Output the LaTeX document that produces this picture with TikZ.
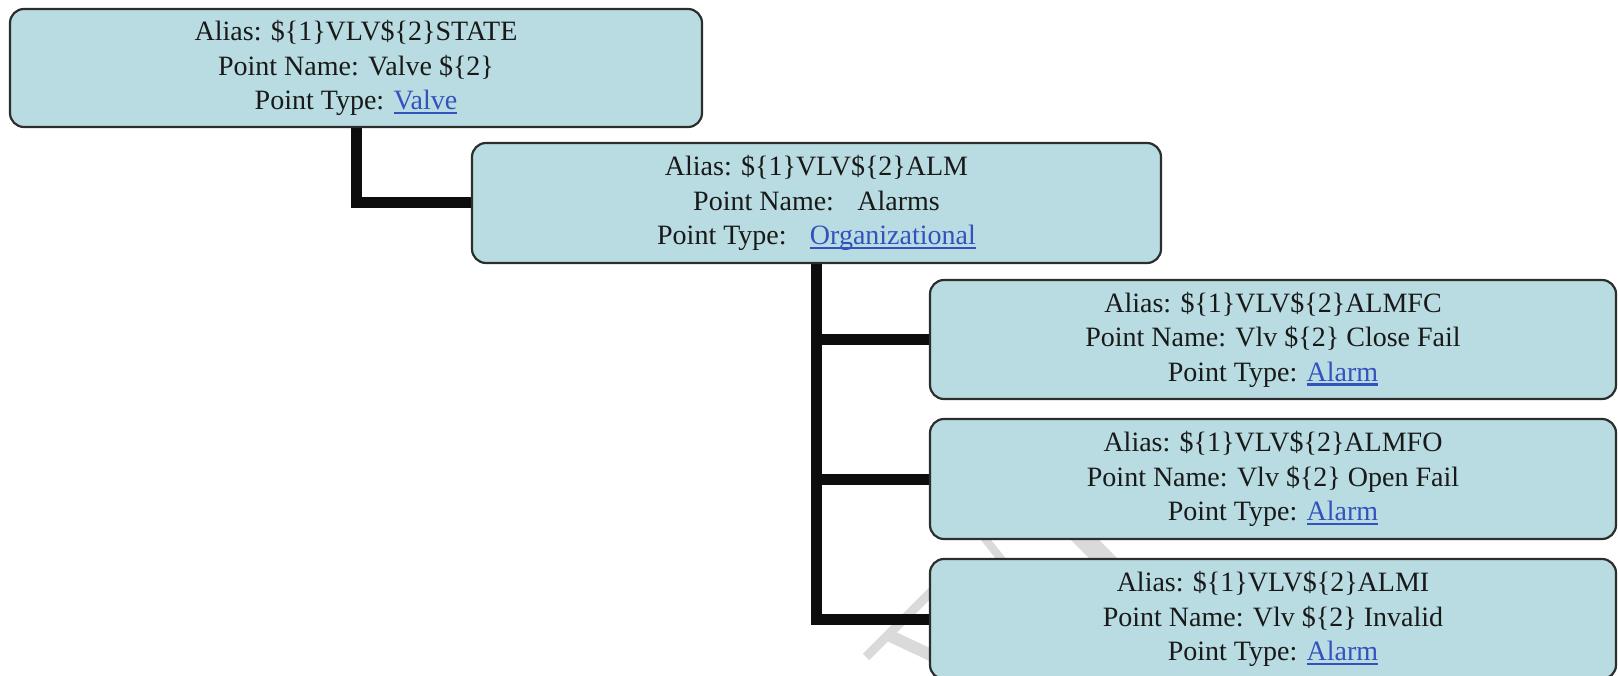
\documentclass[tikz,border=0pt]{standalone}
\usepackage{fontspec}
\setmainfont{Liberation Serif}
\usetikzlibrary{backgrounds}
\definecolor{boxfill}{RGB}{184,220,225}
\definecolor{boxedge}{RGB}{45,45,45}
\definecolor{linkblue}{RGB}{52,82,190}
\definecolor{wmgrey}{RGB}{218,218,218}
\newcommand{\lnk}[1]{{\color{linkblue}\setbox0\hbox{#1}\rlap{\rule[-4.5pt]{\wd0}{2.2pt}}\box0}}
\tikzset{
  pointbox/.style={draw=boxedge, line width=2.2pt, fill=boxfill, rounded corners=14pt,
    align=center, inner sep=0pt, text=black!90,
    font=\fontsize{28}{34.5}\selectfont},
  conn/.style={line width=11pt, black!95},
  wm/.style={line width=9pt, wmgrey}
}
\begin{document}
\begin{tikzpicture}[x=1pt,y=-1pt]
\useasboundingbox (0,0) rectangle (1618,676);
\clip (0,0) rectangle (1618,676);
\node[pointbox, minimum width=692pt, minimum height=118pt] (b1) at (356,68)
  {Alias: \$\{1\}VLV\$\{2\}STATE\\Point Name: Valve \$\{2\}\\Point Type: \lnk{Valve}};
\node[pointbox, minimum width=689pt, minimum height=120pt] (b2) at (816.5,203)
  {Alias: \$\{1\}VLV\$\{2\}ALM\\Point Name:\hspace{0.5em} Alarms\\Point Type:\hspace{0.5em} \lnk{Organizational}};
\node[pointbox, minimum width=686pt, minimum height=119pt] (b3) at (1273,339.5)
  {Alias: \$\{1\}VLV\$\{2\}ALMFC\\Point Name: Vlv \$\{2\} Close Fail\\Point Type: \lnk{Alarm}};
\node[pointbox, minimum width=686pt, minimum height=120pt] (b4) at (1273,479)
  {Alias: \$\{1\}VLV\$\{2\}ALMFO\\Point Name: Vlv \$\{2\} Open Fail\\Point Type: \lnk{Alarm}};
\node[pointbox, minimum width=686pt, minimum height=120pt] (b5) at (1273,619)
  {Alias: \$\{1\}VLV\$\{2\}ALMI\\Point Name: Vlv \$\{2\} Invalid\\Point Type: \lnk{Alarm}};
\begin{pgfonlayer}{background}
  % faint watermark strokes
  \draw[wm] (866,657) -- (935,588);
  \draw[wm, line width=12pt] (886,634) -- (935,657);
  \draw[wm, line width=8pt] (978,530) -- (1010,570);
  \draw[wm, line width=20pt] (1075,530) -- (1115,570);
  % connectors
  \draw[conn] (b1.south) |- (b2.west);
  \draw[conn] (b2.south) |- (b3.west);
  \draw[conn] (b2.south) |- (b4.west);
  \draw[conn] (b2.south) |- (b5.west);
\end{pgfonlayer}
\end{tikzpicture}
\end{document}
